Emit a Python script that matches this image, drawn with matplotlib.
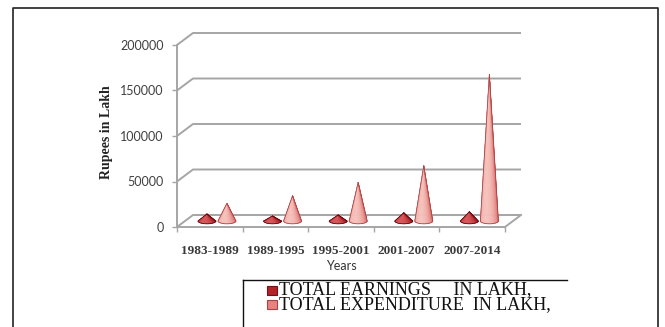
import numpy as np
import matplotlib
matplotlib.use("Agg")
import matplotlib.pyplot as plt
from matplotlib.lines import Line2D
from matplotlib.patches import Polygon, Rectangle
from matplotlib.colors import to_rgb

# ---- data -------------------------------------------------------------
periods = ["1983-1989", "1989-1995", "1995-2001", "2001-2007", "2007-2014"]
earnings = [7700, 5500, 6600, 9000, 10200]
expenditure = [19500, 27800, 42500, 60800, 161500]
y_ticks = [0, 50000, 100000, 150000, 200000]
series_labels = ["TOTAL EARNINGS     IN LAKH,", "TOTAL EXPENDITURE  IN LAKH,"]

# ---- figure geometry (pixels) ----------------------------------------
W, H = 665, 327
fig = plt.figure(figsize=(W / 100, H / 100), dpi=100)
fig.patch.set_facecolor("white")


def fx(px):
    return px / W


def fy(py):
    return 1 - py / H


ax_l, ax_r, ax_t, ax_b = 177, 505, 45, 227
ax = fig.add_axes([fx(ax_l), fy(ax_b), (ax_r - ax_l) / W, (ax_b - ax_t) / H])
n = len(periods)
ymax = y_ticks[-1]
ax.set_xlim(0, n)
ax.set_ylim(0, ymax)
ax.patch.set_visible(False)

# depth of the 3-D box (16 px right, 12 px up) expressed in data units
depth_x = 16 / (ax_r - ax_l) * n
depth_y = 12 / (ax_b - ax_t) * ymax

grid_c = "#a5a5a5"
for v in y_ticks:
    ax.plot([0, depth_x, n + depth_x], [v, v + depth_y, v + depth_y],
            color=grid_c, lw=1.4, clip_on=False, zorder=1,
            solid_capstyle="butt")
ax.plot([n, n + depth_x], [0, depth_y], color=grid_c, lw=1.4,
        clip_on=False, zorder=1)

for side in ("top", "right"):
    ax.spines[side].set_visible(False)
for side in ("left", "bottom"):
    ax.spines[side].set_color(grid_c)
    ax.spines[side].set_linewidth(1.4)

ax.set_yticks(y_ticks)
ax.set_yticklabels([str(v) for v in y_ticks], fontfamily="Lato",
                   fontsize=9, color="#404040")
ax.tick_params(axis="y", length=3.6, width=1.0, color=grid_c, pad=6)

centers = np.arange(n) + 0.5
ax.set_xticks(centers)
ax.set_xticklabels(periods, fontfamily="Liberation Serif", fontweight="bold",
                   fontsize=9.5, color="#3a3a3a")
ax.set_xticks(np.arange(n + 1), minor=True)
ax.tick_params(axis="x", which="major", length=0, pad=13)
ax.tick_params(axis="x", which="minor", length=3.6, width=1.0, color=grid_c)

ax.set_xlabel("Years", fontfamily="Lato", fontsize=9, color="#333333",
              labelpad=2)
ax.set_ylabel("Rupees in Lakh", fontfamily="Liberation Serif",
              fontweight="bold", fontsize=10, color="#222222")
ax.yaxis.set_label_coords(-0.195, 0.52)

# ---- cones ------------------------------------------------------------
pal_earn = ("#6a0b10", "#ad1f27", "#d8565a")
pal_exp = ("#b3474a", "#e27d7a", "#f6c2bc")


def shade(pal, f):
    dark, mid, light = [np.array(to_rgb(c)) for c in pal]
    if f < 0.5:
        return tuple(dark + (mid - dark) * f / 0.5)
    return tuple(mid + (light - mid) * (f - 0.5) / 0.5)


def draw_cone(xc, y0, height, hw, hh, pal, edge, z):
    apex = (xc, y0 + height)
    ts = np.linspace(np.pi, 2 * np.pi, 41)
    pts = np.column_stack([xc + hw * np.cos(ts), y0 + hh * np.sin(ts)])
    for k in range(len(ts) - 1):
        tm = 0.5 * (ts[k] + ts[k + 1])
        f = (np.cos(tm - 1.38 * np.pi) + 1) / 2
        c = shade(pal, f)
        ax.add_patch(Polygon([apex, pts[k], pts[k + 1]], closed=True,
                             facecolor=c, edgecolor=c, lw=0.3,
                             zorder=z, clip_on=False))
    outline = np.vstack([[apex], pts])
    ax.add_patch(Polygon(outline, closed=True, fill=False, edgecolor=edge,
                         lw=0.6, zorder=z + 0.1, clip_on=False))


unit_px = (ax_r - ax_l) / n
half_w = 9 / unit_px
half_h = 2.8 / (ax_b - ax_t) * ymax
mid_x = depth_x / 2
mid_y = depth_y / 2
for i in range(n):
    base_x = centers[i] + mid_x
    draw_cone(base_x - 0.165, mid_y, earnings[i], half_w, half_h,
              pal_earn, "#5a080c", 3 + i)
    draw_cone(base_x + 0.14, mid_y, expenditure[i], half_w, half_h,
              pal_exp, "#a94345", 3.5 + i)

# ---- legend (open box running off the bottom edge) --------------------
fig.add_artist(Line2D([fx(243), fx(567)], [fy(280), fy(280)],
                      transform=fig.transFigure, color="#111111", lw=1.0))
fig.add_artist(Line2D([fx(243), fx(243)], [fy(280), fy(330)],
                      transform=fig.transFigure, color="#111111", lw=1.0))
row_step = 14
for k, (face, edge) in enumerate(zip(("#b3232a", "#e8837f"),
                                     ("#7a1016", "#a94345"))):
    base = 295 + row_step * k
    fig.add_artist(Rectangle((fx(267), fy(base)), 10 / W, 9 / H,
                             transform=fig.transFigure, facecolor=face,
                             edgecolor=edge, lw=0.8))
# multi-line text: 'baseline' anchors the last row
fig.text(fx(279), fy(295 + row_step), "\n".join(series_labels),
         fontfamily="Liberation Serif", fontsize=13, color="#111111",
         va="baseline", ha="left", linespacing=0.81)

# ---- outer frame ------------------------------------------------------
fig.add_artist(Line2D([fx(13), fx(13), fx(658), fx(658)],
                      [fy(330), fy(8), fy(8), fy(330)],
                      transform=fig.transFigure, color="#222222", lw=1.2))

fig.savefig("out.png", dpi=100, facecolor="white")
